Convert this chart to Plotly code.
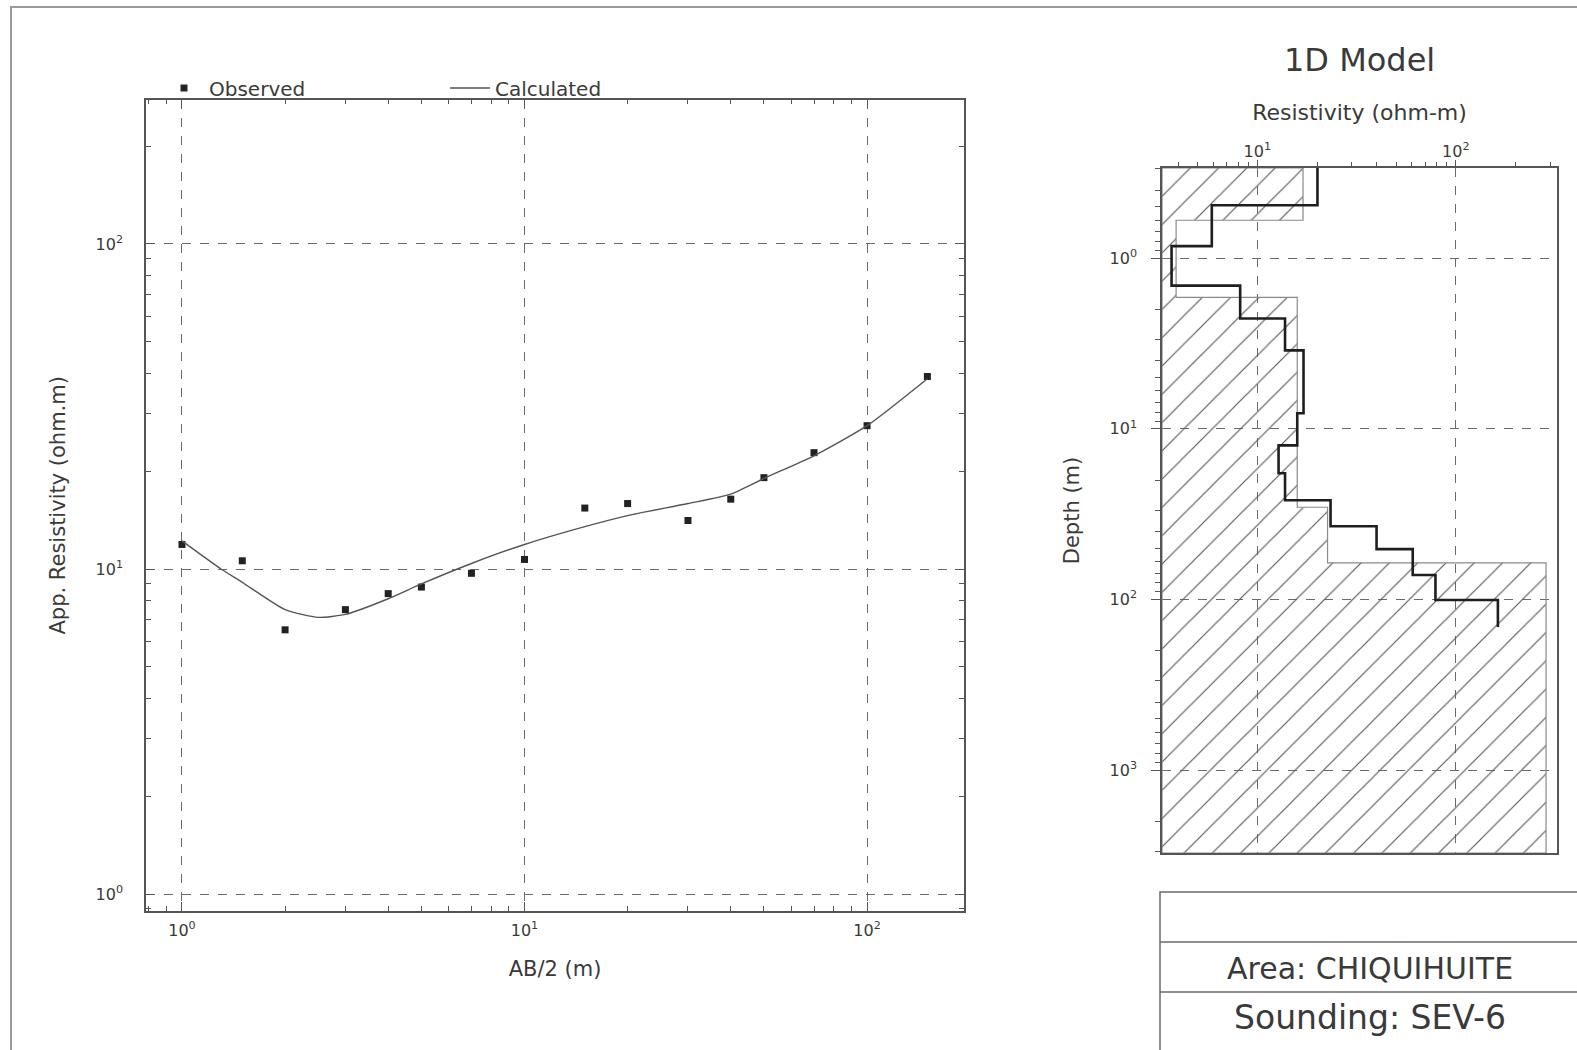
import plotly.graph_objects as go

# ---------------- data ----------------
ab2_obs = [1, 1.5, 2, 3, 4, 5, 7, 10, 15, 20, 30, 40, 50, 70, 100, 150]
rho_obs = [11.9, 10.6, 6.5, 7.5, 8.4, 8.8, 9.7, 10.7, 15.4, 15.9, 14.1, 16.4, 19.1, 22.8, 27.6, 39.1]

ab2_calc = [1, 1.3, 1.5, 2, 2.5, 3, 4, 5, 7, 10, 15, 20, 30, 40, 50, 70, 100, 150]
rho_calc = [12.2, 10.0, 9.1, 7.5, 7.1, 7.25, 8.1, 9.0, 10.4, 11.9, 13.5, 14.6, 15.9, 17.0, 19.0, 22.3, 27.6, 38.5]

# layered (hatched) model: resistivity of each layer, depth of bottom of each layer
layer_rho = [17.0, 3.9, 15.9, 22.6, 285.0]
layer_bottom = [0.6, 1.7, 28.8, 61.0]

# smooth (multi-layer) model
smooth_rho = [20.1, 5.9, 3.7, 8.2, 13.8, 17.1, 15.9, 12.8, 13.8, 23.4, 39.9, 60.7, 79.0, 163.0]
smooth_bottom = [0.49, 0.85, 1.45, 2.26, 3.47, 8.1, 12.5, 18.2, 26.2, 37.2, 50.7, 71.9, 100.7, 145.0]

left_x_ticks = [1, 10, 100]
left_x_labels = ['10<sup>0</sup>', '10<sup>1</sup>', '10<sup>2</sup>']
left_y_ticks = [1, 10, 100]
left_y_labels = ['10<sup>0</sup>', '10<sup>1</sup>', '10<sup>2</sup>']
right_x_ticks = [10, 100]
right_x_labels = ['10<sup>1</sup>', '10<sup>2</sup>']
right_y_ticks = [1, 10, 100, 1000]
right_y_labels = ['10<sup>0</sup>', '10<sup>1</sup>', '10<sup>2</sup>', '10<sup>3</sup>']

title_model = "1D Model"
area_label = "Area: CHIQUIHUITE"
sounding_label = "Sounding: SEV-6"

# ---------------- axis ranges (log10) ----------------
LX = [-0.105, 2.283]
LY = [-0.052, 2.444]
RX = [0.52, 2.51]
RY = [3.485, -0.528]

W, H = 1577, 1050
FONT = "DejaVu Sans"
TXT = "#3a3a3a"
LINE = "#555555"
GRID = "#6a6a6a"


def minor_vals(e0, e1):
    return [m * 10 ** e for e in range(e0, e1) for m in range(2, 10)]


def steps(rhos, bottoms, top, end):
    tops = [top] + list(bottoms)
    ends = list(bottoms) + [end]
    xs, ys = [], []
    for r, t, b in zip(rhos, tops, ends):
        xs += [r, r]
        ys += [t, b]
    return xs, ys


depth_top = 10 ** RY[1]
depth_end = 10 ** RY[0]
rho_min = 10 ** RX[0]

fig = go.Figure()

# left panel
fig.add_trace(go.Scatter(
    x=ab2_obs, y=rho_obs, mode="markers", name="Observed",
    marker=dict(symbol="square", size=7, color="#222222"),
    xaxis="x", yaxis="y"))
fig.add_trace(go.Scatter(
    x=ab2_calc, y=rho_calc, mode="lines", name="Calculated",
    line=dict(color="#555555", width=1.4, shape="spline", smoothing=0.6),
    xaxis="x", yaxis="y"))

# right panel - hatched layered model
hx, hy = steps(layer_rho, layer_bottom, depth_top, depth_end)
poly_x = [rho_min] + hx + [rho_min, rho_min]
poly_y = [depth_top] + hy + [depth_end, depth_top]
fig.add_trace(go.Scatter(
    x=poly_x, y=poly_y, mode="lines", fill="toself", showlegend=False,
    line=dict(color="#8a8a8a", width=1.2),
    fillcolor="rgba(0,0,0,0)",
    fillpattern=dict(shape="/", size=20, solidity=0.06, fgcolor="#5a5a5a",
                     bgcolor="rgba(0,0,0,0)", fillmode="replace"),
    hoverinfo="skip", xaxis="x2", yaxis="y2"))

# right panel - smooth model
sx, sy = steps(smooth_rho, smooth_bottom[:-1], depth_top, smooth_bottom[-1])
fig.add_trace(go.Scatter(
    x=sx, y=sy, mode="lines", showlegend=False,
    line=dict(color="#1e1e1e", width=2.6),
    xaxis="x2", yaxis="y2"))

common = dict(type="log", showline=True, linecolor=LINE, linewidth=1.5,
              showgrid=True, gridcolor=GRID, gridwidth=1, griddash="dash",
              zeroline=False, automargin=False, tickcolor=LINE, tickwidth=1,
              tickfont=dict(family=FONT, size=16, color=TXT), tickmode="array")

fig.update_layout(
    width=W, height=H, template="none",
    paper_bgcolor="white", plot_bgcolor="white",
    margin=dict(l=0, r=0, t=0, b=0),
    font=dict(family=FONT, color=TXT),
    xaxis=dict(common, domain=[146 / W, 964 / W], range=LX, anchor="y",
               tickvals=left_x_ticks, ticktext=left_x_labels,
               ticks="inside", ticklen=9, mirror="ticks", ticklabelstandoff=4,
               minor=dict(tickvals=minor_vals(-1, 3), ticks="inside", ticklen=5,
                          tickcolor=LINE, showgrid=False),
               title=dict(text="AB/2 (m)", font=dict(family=FONT, size=21, color=TXT), standoff=22)),
    yaxis=dict(common, domain=[1 - 911 / H, 1 - 99.6 / H], range=LY, anchor="x",
               tickvals=left_y_ticks, ticktext=left_y_labels,
               ticks="inside", ticklen=9, mirror="ticks", ticklabelstandoff=18,
               minor=dict(tickvals=minor_vals(-1, 3), ticks="inside", ticklen=5,
                          tickcolor=LINE, showgrid=False),
               title=dict(text="App. Resistivity (ohm.m)", font=dict(family=FONT, size=21, color=TXT),
                          standoff=24)),
    xaxis2=dict(common, domain=[1162 / W, 1557 / W], range=RX, anchor="y2", side="top",
                tickvals=right_x_ticks, ticktext=right_x_labels,
                ticks="outside", ticklen=6, mirror=True, ticklabelstandoff=-3,
                minor=dict(tickvals=minor_vals(0, 3), ticks="outside", ticklen=4,
                           tickcolor=LINE, showgrid=False),
                title=dict(text="Resistivity (ohm-m)", font=dict(family=FONT, size=22, color=TXT),
                           standoff=13)),
    yaxis2=dict(common, domain=[1 - 853 / H, 1 - 168 / H], range=RY, anchor="x2",
                tickvals=right_y_ticks, ticktext=right_y_labels,
                ticks="outside", ticklen=9, mirror=True, ticklabelstandoff=11,
                minor=dict(tickvals=minor_vals(-1, 4), ticks="outside", ticklen=5,
                           tickcolor=LINE, showgrid=False),
                title=dict(text="Depth (m)", font=dict(family=FONT, size=21, color=TXT), standoff=24)),
    legend=dict(orientation="h", x=159 / W, xanchor="left", y=1 - 88 / H, yanchor="middle",
                font=dict(family=FONT, size=20, color=TXT), bgcolor="rgba(0,0,0,0)",
                entrywidth=231, entrywidthmode="pixels", itemwidth=40),
    showlegend=True,
)

# page border, info box
fig.add_shape(type="path", xref="paper", yref="paper",
              path=f"M {11 / W} -0.02 L {11 / W} {1 - 7 / H} L 1.02 {1 - 7 / H}",
              line=dict(color="#9a9a9a", width=2))
fig.add_shape(type="rect", xref="paper", yref="paper",
              x0=1160 / W, x1=1.02, y0=-0.02, y1=1 - 892 / H,
              line=dict(color="#6a6a6a", width=1.5))
for yy in (942, 992):
    fig.add_shape(type="line", xref="paper", yref="paper",
                  x0=1160 / W, x1=1.02, y0=1 - yy / H, y1=1 - yy / H,
                  line=dict(color="#6a6a6a", width=1.5))

fig.add_annotation(text=title_model, xref="paper", yref="paper", x=1359 / W, y=1 - 60 / H,
                   xanchor="center", yanchor="middle",
                   showarrow=False, font=dict(family=FONT, size=32, color=TXT))
fig.add_annotation(text=area_label, xref="paper", yref="paper", x=1370 / W, y=1 - 968 / H,
                   xanchor="center", yanchor="middle",
                   showarrow=False, font=dict(family=FONT, size=30, color=TXT))
fig.add_annotation(text=sounding_label, xref="paper", yref="paper", x=1370 / W, y=1 - 1017 / H,
                   xanchor="center", yanchor="middle",
                   showarrow=False, font=dict(family=FONT, size=33, color=TXT))

fig.write_html("out.html", config={"displayModeBar": False},
               post_script="document.body.style.margin='0';document.body.style.overflow='hidden';")
